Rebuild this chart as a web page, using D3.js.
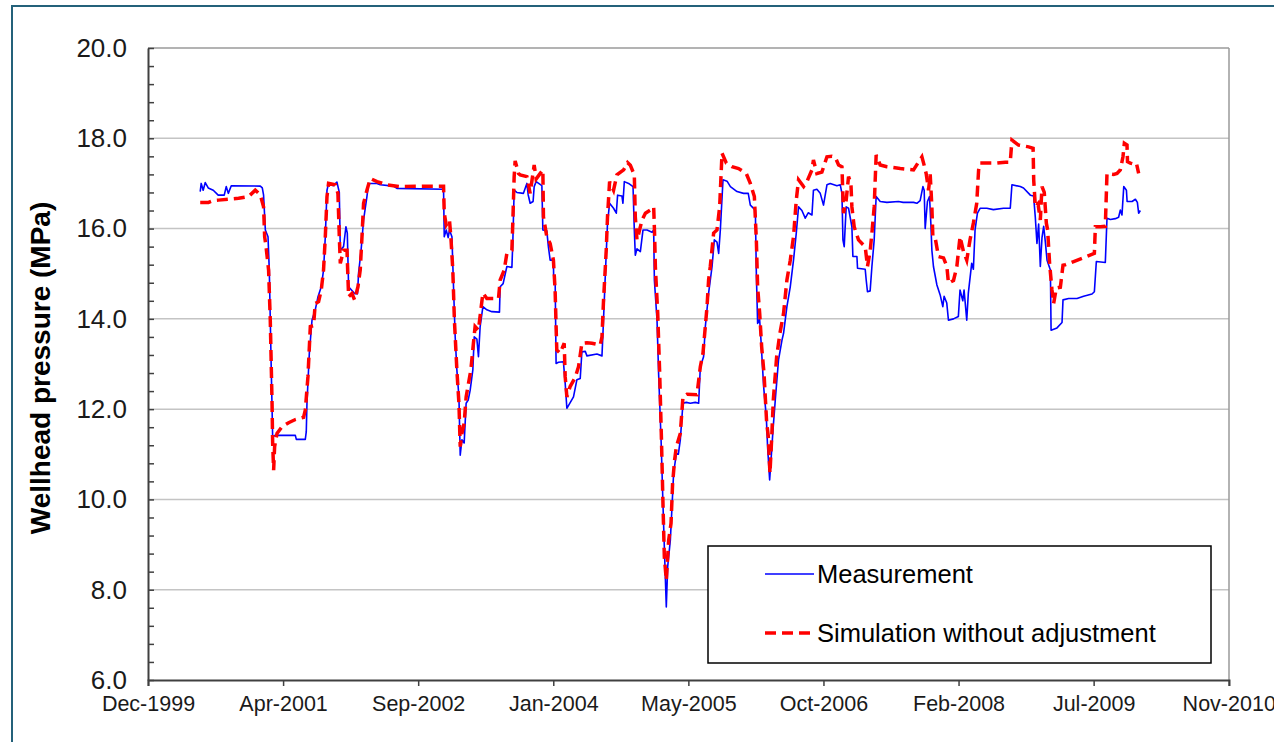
<!DOCTYPE html>
<html>
<head>
<meta charset="utf-8">
<script src="https://cdn.jsdelivr.net/npm/d3@7"></script>
<style>
  html, body { margin: 0; padding: 0; background: #fff; }
  svg { display: block; font-family: "Liberation Sans", Arial, sans-serif; }
</style>
</head>
<body>
<svg id="chart"></svg>
<script>
// Wellhead pressure, MPa. Time as decimal years.
const measurement = [
  [2000.457, 16.82], [2000.467, 17.00], [2000.487, 16.85], [2000.508, 17.02], [2000.538, 16.90],
  [2000.589, 16.85], [2000.639, 16.74], [2000.700, 16.74], [2000.720, 16.93], [2000.741, 16.78],
  [2000.771, 16.95], [2001.065, 16.94], [2001.085, 16.90], [2001.098, 16.74], [2001.116, 15.97],
  [2001.143, 15.82], [2001.156, 15.08], [2001.176, 12.87], [2001.190, 11.39], [2001.217, 11.42],
  [2001.420, 11.42], [2001.430, 11.33], [2001.521, 11.33], [2001.531, 11.50], [2001.538, 12.13],
  [2001.562, 13.24], [2001.589, 13.97], [2001.622, 14.20], [2001.650, 14.49], [2001.683, 14.71],
  [2001.706, 15.08], [2001.724, 15.82], [2001.741, 16.85], [2001.757, 17.00], [2001.805, 16.95],
  [2001.842, 17.03], [2001.866, 16.80], [2001.876, 15.52], [2001.909, 15.60], [2001.933, 16.04],
  [2001.947, 15.90], [2001.960, 14.71], [2002.021, 14.56], [2002.051, 14.56], [2002.061, 15.01],
  [2002.086, 15.50], [2002.112, 16.19], [2002.146, 16.71], [2002.163, 17.00], [2002.248, 17.00],
  [2002.281, 16.97], [2002.416, 16.94], [2002.450, 16.89], [2002.923, 16.87], [2002.930, 15.82],
  [2002.950, 15.97], [2002.970, 15.80], [2002.983, 15.97], [2003.008, 15.82], [2003.024, 14.71],
  [2003.041, 13.60], [2003.058, 12.87], [2003.079, 12.27], [2003.092, 10.98], [2003.109, 11.32],
  [2003.132, 11.25], [2003.152, 12.13], [2003.173, 12.20], [2003.193, 12.42], [2003.220, 12.87],
  [2003.234, 13.60], [2003.261, 13.55], [2003.277, 13.16], [2003.294, 13.83], [2003.322, 14.27],
  [2003.362, 14.20], [2003.413, 14.16], [2003.490, 14.15], [2003.497, 14.71], [2003.527, 14.78],
  [2003.565, 15.16], [2003.616, 15.14], [2003.626, 15.75], [2003.639, 16.85], [2003.666, 16.80],
  [2003.733, 16.78], [2003.768, 17.00], [2003.781, 16.75], [2003.801, 16.56], [2003.831, 16.60],
  [2003.842, 16.93], [2003.862, 17.04], [2003.920, 16.95], [2003.930, 15.97], [2003.970, 15.95],
  [2003.986, 15.60], [2004.004, 15.30], [2004.037, 15.30], [2004.039, 14.97], [2004.054, 14.95],
  [2004.064, 13.01], [2004.088, 13.04], [2004.138, 13.05], [2004.156, 12.57], [2004.173, 12.02],
  [2004.189, 12.08], [2004.240, 12.27], [2004.274, 12.65], [2004.308, 12.68], [2004.325, 13.27],
  [2004.359, 13.28], [2004.376, 13.18], [2004.477, 13.22], [2004.528, 13.18], [2004.538, 13.68],
  [2004.561, 14.93], [2004.584, 16.12], [2004.605, 16.56], [2004.645, 16.45], [2004.673, 16.34],
  [2004.686, 16.74], [2004.730, 16.72], [2004.740, 16.56], [2004.754, 17.04], [2004.797, 17.00],
  [2004.842, 16.93], [2004.855, 15.97], [2004.865, 15.41], [2004.882, 15.55], [2004.916, 15.49],
  [2004.943, 15.97], [2004.984, 15.97], [2005.034, 15.92], [2005.051, 15.97], [2005.058, 14.86],
  [2005.085, 13.97], [2005.101, 12.79], [2005.126, 11.32], [2005.146, 9.84], [2005.159, 8.95],
  [2005.179, 7.62], [2005.193, 8.51], [2005.220, 9.10], [2005.237, 9.84], [2005.253, 10.58],
  [2005.281, 11.02], [2005.301, 11.00], [2005.321, 11.32], [2005.348, 12.13], [2005.382, 12.15],
  [2005.422, 12.13], [2005.473, 12.15], [2005.507, 12.13], [2005.524, 12.94], [2005.557, 13.16],
  [2005.575, 13.83], [2005.608, 14.57], [2005.643, 15.16], [2005.666, 15.75], [2005.693, 15.70],
  [2005.710, 15.45], [2005.727, 15.97], [2005.754, 17.08], [2005.795, 17.05], [2005.829, 16.93],
  [2005.896, 16.82], [2005.963, 16.78], [2006.010, 16.78], [2006.031, 16.52], [2006.082, 16.41],
  [2006.092, 15.01], [2006.105, 13.90], [2006.125, 14.00], [2006.139, 13.53], [2006.166, 12.50],
  [2006.193, 11.83], [2006.206, 11.17], [2006.227, 10.43], [2006.241, 10.87], [2006.261, 11.54],
  [2006.284, 12.20], [2006.317, 13.09], [2006.352, 13.53], [2006.368, 13.68], [2006.402, 14.27],
  [2006.436, 14.71], [2006.469, 15.30], [2006.497, 15.90], [2006.520, 16.48], [2006.554, 16.40],
  [2006.588, 16.23], [2006.618, 16.35], [2006.656, 16.30], [2006.671, 16.85], [2006.706, 16.87],
  [2006.740, 16.78], [2006.773, 16.52], [2006.808, 16.97], [2006.841, 17.00], [2006.909, 16.95],
  [2006.943, 16.97], [2006.960, 16.78], [2006.970, 15.75], [2006.983, 15.60], [2007.003, 16.48],
  [2007.027, 16.45], [2007.061, 16.04], [2007.071, 15.38], [2007.112, 15.38], [2007.118, 15.12],
  [2007.196, 15.10], [2007.206, 14.86], [2007.219, 14.60], [2007.246, 14.62], [2007.264, 15.16],
  [2007.287, 15.75], [2007.307, 16.71], [2007.348, 16.60], [2007.416, 16.58], [2007.533, 16.60],
  [2007.581, 16.58], [2007.686, 16.58], [2007.720, 16.56], [2007.753, 16.62], [2007.781, 16.93],
  [2007.794, 16.85], [2007.804, 16.00], [2007.827, 16.60], [2007.848, 16.71], [2007.862, 16.10],
  [2007.872, 15.52], [2007.888, 15.16], [2007.923, 14.75], [2007.956, 14.53], [2007.983, 14.27],
  [2007.996, 14.50], [2008.023, 14.35], [2008.040, 13.97], [2008.091, 14.00], [2008.140, 14.05],
  [2008.157, 14.64], [2008.185, 14.40], [2008.198, 14.64], [2008.225, 13.97], [2008.241, 14.57],
  [2008.275, 15.23], [2008.292, 15.10], [2008.309, 15.97], [2008.333, 16.34], [2008.360, 16.45],
  [2008.428, 16.45], [2008.494, 16.42], [2008.597, 16.45], [2008.665, 16.45], [2008.682, 16.97],
  [2008.766, 16.93], [2008.799, 16.90], [2008.868, 16.74], [2008.901, 16.72], [2008.918, 16.26],
  [2008.935, 15.67], [2008.952, 16.10], [2008.969, 15.16], [2008.986, 15.80], [2009.003, 16.05],
  [2009.020, 15.70], [2009.037, 15.30], [2009.071, 15.08], [2009.078, 13.75], [2009.138, 13.80],
  [2009.189, 13.92], [2009.199, 14.42], [2009.256, 14.45], [2009.341, 14.45], [2009.408, 14.50],
  [2009.493, 14.55], [2009.517, 14.60], [2009.537, 15.27], [2009.628, 15.25], [2009.645, 16.23],
  [2009.679, 16.20], [2009.730, 16.22], [2009.763, 16.25], [2009.780, 16.41], [2009.797, 16.30],
  [2009.815, 16.93], [2009.842, 16.85], [2009.849, 16.60], [2009.899, 16.60], [2009.933, 16.65],
  [2009.953, 16.58], [2009.966, 16.34], [2009.983, 16.40],
];

const simulation = [
  [2000.457, 16.58], [2000.541, 16.58], [2000.589, 16.62], [2000.642, 16.63], [2000.744, 16.65],
  [2000.845, 16.67], [2000.946, 16.71], [2001.014, 16.85], [2001.065, 16.75], [2001.098, 16.48],
  [2001.109, 15.82], [2001.123, 15.60], [2001.149, 15.08], [2001.166, 13.97], [2001.184, 12.13],
  [2001.190, 11.24], [2001.200, 10.65], [2001.210, 11.17], [2001.234, 11.46], [2001.285, 11.61],
  [2001.352, 11.70], [2001.420, 11.77], [2001.504, 11.82], [2001.521, 11.98], [2001.548, 12.72],
  [2001.572, 13.83], [2001.605, 13.85], [2001.622, 14.34], [2001.656, 14.38], [2001.683, 14.64],
  [2001.706, 15.08], [2001.724, 15.82], [2001.741, 16.71], [2001.757, 17.00], [2001.825, 16.97],
  [2001.852, 16.78], [2001.866, 15.82], [2001.876, 15.23], [2001.909, 15.52], [2001.944, 15.52],
  [2001.960, 14.49], [2001.994, 14.56], [2002.021, 14.42], [2002.055, 14.71], [2002.078, 15.08],
  [2002.096, 15.82], [2002.112, 16.56], [2002.146, 16.85], [2002.180, 17.11], [2002.248, 17.04],
  [2002.349, 16.97], [2002.484, 16.93], [2002.754, 16.94], [2002.923, 16.94], [2002.930, 16.34],
  [2002.950, 16.08], [2002.983, 16.19], [2002.997, 15.82], [2003.017, 15.08], [2003.033, 13.97],
  [2003.058, 12.87], [2003.079, 12.13], [2003.092, 11.17], [2003.109, 11.46], [2003.132, 11.69],
  [2003.152, 12.27], [2003.176, 12.57], [2003.200, 12.87], [2003.226, 13.46], [2003.243, 13.83],
  [2003.277, 13.75], [2003.301, 14.20], [2003.322, 14.57], [2003.362, 14.45], [2003.480, 14.45],
  [2003.497, 14.86], [2003.538, 15.08], [2003.565, 15.45], [2003.616, 15.52], [2003.626, 16.19],
  [2003.639, 17.15], [2003.649, 17.50], [2003.683, 17.22], [2003.700, 17.19], [2003.768, 17.15],
  [2003.801, 16.78], [2003.842, 17.41], [2003.862, 17.10], [2003.930, 17.30], [2003.936, 16.26],
  [2003.970, 15.82], [2004.004, 15.67], [2004.037, 15.30], [2004.054, 14.64], [2004.071, 13.31],
  [2004.105, 13.24], [2004.146, 13.46], [2004.156, 12.72], [2004.173, 12.27], [2004.206, 12.50],
  [2004.257, 12.70], [2004.291, 12.94], [2004.325, 13.46], [2004.376, 13.47], [2004.426, 13.46],
  [2004.510, 13.42], [2004.528, 13.60], [2004.544, 14.42], [2004.571, 15.52], [2004.584, 16.26],
  [2004.605, 17.04], [2004.645, 16.85], [2004.679, 17.19], [2004.747, 17.30], [2004.787, 17.46],
  [2004.815, 17.40], [2004.855, 17.19], [2004.865, 16.26], [2004.882, 15.75], [2004.895, 15.85],
  [2004.933, 16.19], [2004.967, 16.34], [2005.017, 16.41], [2005.051, 16.48], [2005.061, 15.82],
  [2005.068, 15.16], [2005.092, 14.12], [2005.112, 12.79], [2005.130, 11.32], [2005.146, 9.84],
  [2005.159, 8.73], [2005.179, 8.21], [2005.203, 9.10], [2005.227, 9.47], [2005.243, 10.36],
  [2005.263, 10.87], [2005.281, 11.17], [2005.321, 11.46], [2005.348, 12.27], [2005.389, 12.33],
  [2005.490, 12.32], [2005.524, 12.94], [2005.551, 13.24], [2005.592, 14.27], [2005.608, 14.86],
  [2005.625, 15.16], [2005.659, 15.90], [2005.693, 15.97], [2005.720, 16.48], [2005.744, 17.67],
  [2005.788, 17.45], [2005.845, 17.37], [2005.912, 17.33], [2005.990, 17.22], [2006.031, 17.00],
  [2006.072, 16.71], [2006.092, 15.75], [2006.105, 14.71], [2006.126, 14.12], [2006.146, 13.38],
  [2006.170, 12.79], [2006.197, 11.69], [2006.213, 11.40], [2006.230, 10.58], [2006.247, 11.32],
  [2006.264, 12.20], [2006.298, 13.16], [2006.331, 13.68], [2006.368, 14.12], [2006.402, 14.86],
  [2006.436, 15.30], [2006.469, 15.82], [2006.497, 16.63], [2006.520, 17.08], [2006.571, 16.93],
  [2006.605, 17.04], [2006.656, 17.30], [2006.671, 17.52], [2006.706, 17.22], [2006.757, 17.25],
  [2006.808, 17.59], [2006.859, 17.60], [2006.892, 17.58], [2006.926, 17.41], [2006.960, 17.37],
  [2006.976, 16.34], [2007.003, 16.63], [2007.027, 17.15], [2007.051, 17.00], [2007.061, 16.48],
  [2007.084, 16.04], [2007.128, 15.75], [2007.163, 15.67], [2007.196, 15.60], [2007.219, 15.16],
  [2007.246, 15.50], [2007.264, 15.90], [2007.287, 16.48], [2007.307, 17.63], [2007.348, 17.41],
  [2007.416, 17.37], [2007.551, 17.33], [2007.686, 17.30], [2007.771, 17.59], [2007.794, 17.40],
  [2007.814, 17.22], [2007.838, 16.85], [2007.855, 17.20], [2007.872, 16.48], [2007.882, 15.82],
  [2007.905, 15.80], [2007.939, 15.38], [2007.990, 15.35], [2008.024, 15.16], [2008.040, 14.79],
  [2008.091, 14.85], [2008.125, 15.16], [2008.157, 15.82], [2008.191, 15.50], [2008.225, 15.30],
  [2008.258, 15.75], [2008.292, 16.12], [2008.326, 16.56], [2008.345, 17.30], [2008.360, 17.45],
  [2008.445, 17.45], [2008.531, 17.45], [2008.615, 17.47], [2008.665, 17.47], [2008.682, 17.96],
  [2008.749, 17.85], [2008.851, 17.81], [2008.896, 17.78], [2008.902, 17.08], [2008.919, 16.48],
  [2008.946, 16.55], [2008.969, 16.19], [2008.986, 16.93], [2009.009, 16.80], [2009.030, 16.12],
  [2009.043, 15.97], [2009.063, 15.23], [2009.087, 14.64], [2009.104, 14.34], [2009.131, 14.68],
  [2009.172, 14.70], [2009.199, 15.19], [2009.223, 15.20], [2009.307, 15.27], [2009.392, 15.34],
  [2009.460, 15.40], [2009.517, 15.45], [2009.527, 16.04], [2009.578, 16.04], [2009.628, 16.05],
  [2009.645, 17.22], [2009.713, 17.20], [2009.747, 17.22], [2009.780, 17.30], [2009.807, 17.59],
  [2009.821, 17.89], [2009.848, 17.85], [2009.853, 17.48], [2009.881, 17.45], [2009.915, 17.43],
  [2009.943, 17.45], [2009.966, 17.22],
];

const seriesNames = ["Measurement", "Simulation without adjustment"];
const seriesColors = ["#0000ff", "#ff0000"];

// Axis: Excel-style date axis, 500-day major unit
const xStart = "1999-12-06";
const xEnd = "2010-11-19";
const xStepDays = 500;
const yDomain = [6, 20];
const yMajorStep = 2;
const yMinorStep = 0.4;

const W = 1274, H = 742;
const margin = { top: 48, right: 45, bottom: 62, left: 148 };
const iW = W - margin.left - margin.right;
const iH = H - margin.top - margin.bottom;

function yearToDate(t) {
  const y = Math.floor(t);
  const a = Date.UTC(y, 0, 1), b = Date.UTC(y + 1, 0, 1);
  return new Date(a + (t - y) * (b - a));
}

const svg = d3.select("#chart").attr("width", W).attr("height", H);

// outer chart frame
svg.append("rect")
  .attr("x", 12).attr("y", 6)
  .attr("width", W + 20).attr("height", H + 20)
  .attr("fill", "none")
  .attr("stroke", "#24617a")
  .attr("stroke-width", 2);

const x = d3.scaleUtc()
  .domain([new Date(xStart), new Date(xEnd)])
  .range([0, iW]);
const y = d3.scaleLinear().domain(yDomain).range([iH, 0]);

const xTicks = d3.range(0, 4001, xStepDays)
  .map((d) => new Date(+new Date(xStart) + d * 86400000));

const g = svg.append("g").attr("transform", `translate(${margin.left},${margin.top})`);

// Grid lines
const majors = d3.range(yDomain[0], yDomain[1] + 0.001, yMajorStep);
g.append("g")
  .selectAll("line")
  .data(majors.filter((v) => v > yDomain[0]))
  .join("line")
  .attr("x1", 0).attr("x2", iW)
  .attr("y1", (d) => y(d)).attr("y2", (d) => y(d))
  .attr("stroke", (d) => (d === yDomain[1] ? "#9a9a9a" : "#c4c4c4"))
  .attr("stroke-width", 1.5);

// right border of plot area
g.append("line")
  .attr("x1", iW).attr("x2", iW).attr("y1", 0).attr("y2", iH)
  .attr("stroke", "#9a9a9a").attr("stroke-width", 1.5);

// Y axis: inside minor ticks + labels
const minors = d3.range(yDomain[0], yDomain[1] + 0.001, yMinorStep);
g.append("g")
  .call(d3.axisRight(y).tickValues(minors).tickSize(6).tickFormat(""))
  .call((a) => a.select(".domain").remove())
  .call((a) => a.selectAll("line").attr("stroke", "#404040").attr("stroke-width", 1.5));

g.append("g")
  .call(d3.axisLeft(y).tickValues(majors).tickSize(0).tickPadding(21).tickFormat(d3.format(".1f")))
  .call((a) => a.select(".domain").attr("stroke", "#404040").attr("stroke-width", 2))
  .call((a) => a.selectAll("text")
    .attr("fill", "#1a1a1a")
    .attr("font-size", 26)
    .attr("font-family", "Liberation Sans, Arial, sans-serif"));

// X axis
g.append("g")
  .attr("transform", `translate(0,${iH})`)
  .call(d3.axisBottom(x).tickValues(xTicks).tickSize(6).tickPadding(10)
    .tickFormat(d3.utcFormat("%b-%Y")))
  .call((a) => a.select(".domain").attr("stroke", "#404040").attr("stroke-width", 2))
  .call((a) => a.selectAll("line").attr("stroke", "#404040").attr("stroke-width", 1.5))
  .call((a) => a.selectAll("text")
    .attr("fill", "#1a1a1a")
    .attr("font-size", 21.5)
    .attr("font-family", "Liberation Sans, Arial, sans-serif"));

// Series
const line = d3.line()
  .x((d) => x(yearToDate(d[0])))
  .y((d) => y(d[1]));

g.append("path")
  .datum(measurement)
  .attr("fill", "none")
  .attr("stroke", seriesColors[0])
  .attr("stroke-width", 1.6)
  .attr("stroke-linejoin", "round")
  .attr("d", line);

g.append("path")
  .datum(simulation)
  .attr("fill", "none")
  .attr("stroke", seriesColors[1])
  .attr("stroke-width", 3.5)
  .attr("stroke-dasharray", "11,6")
  .attr("d", line);

// Y axis title
svg.append("text")
  .attr("transform", "translate(40,368) rotate(-90)")
  .attr("text-anchor", "middle")
  .attr("dy", "0.35em")
  .attr("font-size", 28)
  .attr("font-weight", "bold")
  .attr("fill", "#000")
  .text("Wellhead pressure (MPa)");

// Legend
const lg = svg.append("g").attr("transform", "translate(708,546)");
lg.append("rect")
  .attr("width", 503).attr("height", 117)
  .attr("fill", "#fff")
  .attr("stroke", "#000").attr("stroke-width", 1.5);

seriesNames.forEach((name, i) => {
  const ly = 28 + i * 59;
  lg.append("line")
    .attr("x1", 57).attr("x2", 106)
    .attr("y1", ly).attr("y2", ly)
    .attr("stroke", seriesColors[i])
    .attr("stroke-width", i === 0 ? 1.5 : 3.5)
    .attr("stroke-dasharray", i === 0 ? null : "11,6");
  lg.append("text")
    .attr("x", 109).attr("y", ly)
    .attr("dy", "0.35em")
    .attr("font-size", 25.5)
    .attr("fill", "#000")
    .text(name);
});
</script>
</body>
</html>
